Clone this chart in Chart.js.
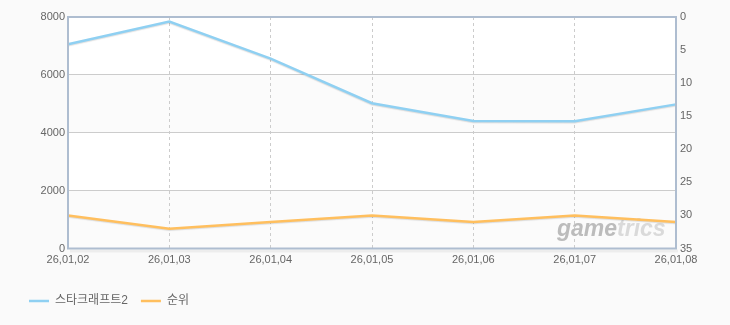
<!DOCTYPE html>
<html>
<head>
<meta charset="utf-8">
<script src="https://cdn.jsdelivr.net/npm/chart.js@4"></script>
<style>
  html, body { margin: 0; padding: 0; background: #fafafa; }
  #wrap { width: 730px; height: 325px; position: relative; }
</style>
</head>
<body>
<div id="wrap"><canvas id="rankChart"></canvas></div>
<script>
// values
const dates = ['26,01,02', '26,01,03', '26,01,04', '26,01,05', '26,01,06', '26,01,07', '26,01,08'];
const starcraft2 = [7060, 7840, 6560, 5020, 4410, 4400, 4980];
const rank = [30, 32, 31, 30, 31, 30, 31];
const seriesNames = ['스타크래프트2', '순위'];
const leftMax = 8000, leftStep = 2000;
const rightMax = 35, rightStep = 5;

const FONT = "Arial, 'Liberation Sans', 'Noto Sans CJK KR', sans-serif";

// page bg, striped plot bands and the gametrics watermark
const backdrop = {
    id: 'backdrop',
    beforeDraw(chart) {
        const {ctx, chartArea: a, scales: {y}} = chart;
        ctx.save();
        ctx.fillStyle = '#fafafa';
        ctx.fillRect(0, 0, chart.width, chart.height);
        for (let v = leftMax; v > 0; v -= leftStep) {
            const top = y.getPixelForValue(v);
            const bot = y.getPixelForValue(v - leftStep);
            ctx.fillStyle = ((leftMax - v) / leftStep) % 2 === 0 ? '#ffffff' : '#fbfbfb';
            ctx.fillRect(a.left, top, a.right - a.left, bot - top);
        }
        ctx.restore();
    },
    beforeDatasetsDraw(chart) {
        const {ctx, chartArea: a} = chart;
        ctx.save();
        ctx.font = "italic bold 23px Arial, 'Liberation Sans', sans-serif";
        ctx.textBaseline = 'alphabetic';
        const x = a.right - 119, base = a.bottom - 13;
        ctx.fillStyle = '#bcbcbc';
        ctx.fillText('game', x, base);
        const w = ctx.measureText('game').width;
        ctx.fillStyle = '#dadada';
        ctx.fillText('trics', x + w, base);
        ctx.restore();
    },
    afterDatasetsDraw(chart) {
        const {ctx, chartArea: a} = chart;
        ctx.save();
        // soft shadow under the bottom axis
        ctx.fillStyle = 'rgba(0,0,0,0.05)';
        ctx.fillRect(a.left + 2, a.bottom + 1, a.right - a.left, 3);
        ctx.strokeStyle = '#aebdd0';
        ctx.lineWidth = 2;
        ctx.strokeRect(a.left, a.top, a.right - a.left, a.bottom - a.top);
        ctx.restore();
    }
};

const lineShadow = {
    id: 'lineShadow',
    beforeDatasetDraw(chart) {
        const ctx = chart.ctx;
        ctx.save();
        ctx.shadowColor = 'rgba(0,0,0,0.12)';
        ctx.shadowOffsetY = 1;
        ctx.shadowBlur = 1;
    },
    afterDatasetDraw(chart) {
        chart.ctx.restore();
    }
};

new Chart(document.getElementById('rankChart'), {
    type: 'line',
    data: {
        labels: dates,
        datasets: [{
            label: seriesNames[0],
            data: starcraft2,
            yAxisID: 'y',
            borderColor: '#8fd0f2',
            backgroundColor: '#8fd0f2',
            borderWidth: 2.5,
            pointRadius: 0,
            tension: 0
        }, {
            label: seriesNames[1],
            data: rank,
            yAxisID: 'y2',
            borderColor: '#ffbf5e',
            backgroundColor: '#ffbf5e',
            borderWidth: 2.5,
            pointRadius: 0,
            tension: 0
        }]
    },
    options: {
        responsive: true,
        maintainAspectRatio: false,
        animation: false,
        layout: { padding: { left: 16, right: 0, top: 17, bottom: 8 } },
        plugins: {
            tooltip: { enabled: false },
            legend: {
                position: 'bottom',
                align: 'start',
                labels: {
                    usePointStyle: true,
                    pointStyle: 'line',
                    pointStyleWidth: 20,
                    padding: 13,
                    color: '#666',
                    font: { size: 12, family: FONT }
                }
            }
        },
        scales: {
            x: {
                offset: false,
                grid: { color: '#cccccc', drawTicks: false },
                border: { display: false, dash: [3, 3] },
                ticks: { color: '#666', padding: 5, maxRotation: 0, font: { size: 11, family: FONT } },
                afterFit(s) { s.height = 33.5; }
            },
            y: {
                position: 'left',
                min: 0,
                max: leftMax,
                grid: { color: '#cccccc', drawTicks: false },
                border: { display: false },
                ticks: {
                    stepSize: leftStep, color: '#666', padding: 3,
                    font: { size: 11, family: FONT },
                    callback: v => String(v)
                },
                afterFit(s) { s.width = 52; }
            },
            y2: {
                position: 'right',
                reverse: true,
                min: 0,
                max: rightMax,
                grid: { display: false, drawTicks: false },
                border: { display: false },
                ticks: { stepSize: rightStep, color: '#666', padding: 4, font: { size: 11, family: FONT } },
                afterFit(s) { s.width = 54; }
            }
        }
    },
    plugins: [backdrop, lineShadow]
});
</script>
</body>
</html>
